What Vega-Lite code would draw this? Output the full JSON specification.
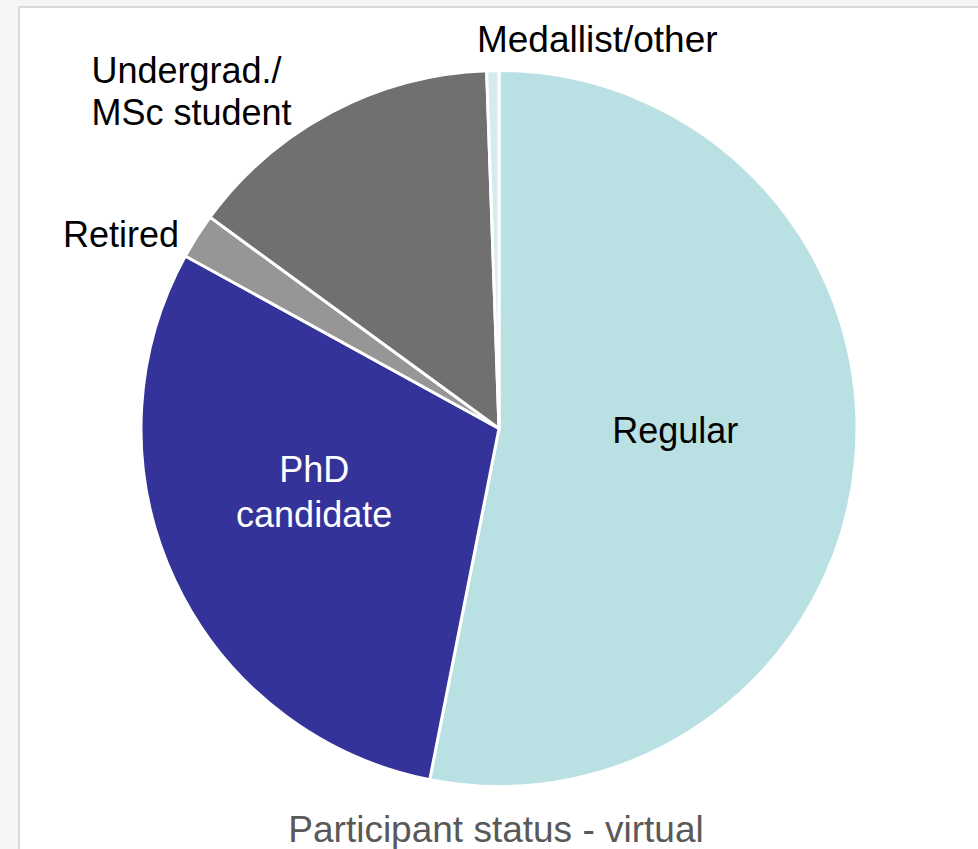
{
  "$schema": "https://vega.github.io/schema/vega-lite/v6.json",
  "width": 960,
  "height": 843,
  "padding": {"left": 19, "top": 7, "right": 0, "bottom": 0},
  "autosize": {"type": "none"},
  "background": "#f5f5f5",
  "view": {"fill": "white", "stroke": "#d9d9d9", "strokeWidth": 2},
  "config": {
    "view": {"fill": "white", "stroke": "#d9d9d9", "strokeWidth": 2},
    "text": {"font": "Liberation Sans", "fontSize": 36}
  },
  "title": {
    "text": "Participant status - virtual",
    "orient": "bottom",
    "anchor": "middle",
    "offset": -8,
    "dx": -3,
    "baseline": "alphabetic",
    "font": "Liberation Sans",
    "fontSize": 37,
    "fontWeight": "normal",
    "color": "#595959"
  },
  "data": {
    "values": [
      {"status": "Regular", "label": "Regular", "share": 53.1, "rank": 1},
      {"status": "PhD candidate", "label": ["PhD", "candidate"], "share": 29.9, "rank": 2},
      {"status": "Retired", "label": "Retired", "share": 2.05, "rank": 3},
      {"status": "Undergrad./ MSc student", "label": ["Undergrad./", "MSc student"], "share": 14.4, "rank": 4},
      {"status": "Medallist/other", "label": "Medallist/other", "share": 0.55, "rank": 5}
    ]
  },
  "encoding": {
    "theta": {"field": "share", "type": "quantitative", "stack": true, "scale": {"domain": [0, 100]}},
    "order": {"field": "rank", "type": "quantitative"}
  },
  "layer": [
    {
      "mark": {"type": "arc", "radius": 358, "stroke": "white", "strokeWidth": 3},
      "encoding": {
        "color": {
          "field": "status",
          "type": "nominal",
          "scale": {
            "domain": ["Regular", "PhD candidate", "Retired", "Undergrad./ MSc student", "Medallist/other"],
            "range": ["#b9e0e3", "#343399", "#969696", "#707070", "#d5ecee"]
          },
          "legend": null
        }
      }
    },
    {
      "mark": {"type": "text", "radius": 177, "dy": -3, "align": "center", "baseline": "alphabetic", "color": "black"},
      "encoding": {"text": {"condition": {"test": "datum.status === 'Regular'", "field": "label"}, "value": ""}}
    },
    {
      "mark": {"type": "text", "radius": 204, "dy": -33, "align": "center", "baseline": "alphabetic", "color": "white", "lineHeight": 45},
      "encoding": {"text": {"condition": {"test": "datum.status === 'PhD candidate'", "field": "label"}, "value": ""}}
    },
    {
      "mark": {"type": "text", "radius": 390, "dx": 9, "dy": 28, "align": "right", "baseline": "alphabetic", "color": "black"},
      "encoding": {"text": {"condition": {"test": "datum.status === 'Retired'", "field": "label"}, "value": ""}}
    },
    {
      "mark": {"type": "text", "radius": 390, "dx": -225, "dy": -1, "align": "left", "baseline": "alphabetic", "color": "black", "lineHeight": 42},
      "encoding": {"text": {"condition": {"test": "datum.status === 'Undergrad./ MSc student'", "field": "label"}, "value": ""}}
    },
    {
      "mark": {"type": "text", "radius": 390, "dx": 105, "dy": 13, "align": "center", "baseline": "alphabetic", "color": "black", "fontSize": 37},
      "encoding": {"text": {"condition": {"test": "datum.status === 'Medallist/other'", "field": "label"}, "value": ""}}
    }
  ]
}
